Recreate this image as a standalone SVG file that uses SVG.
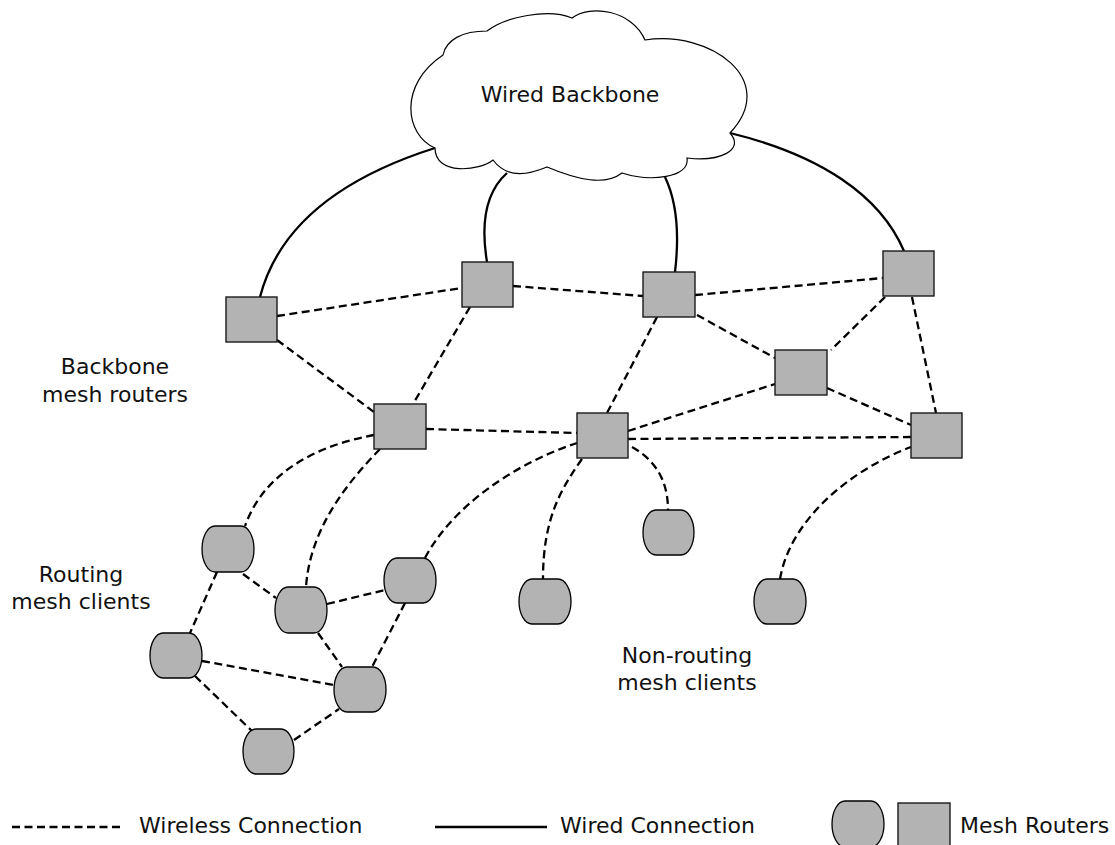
<svg xmlns="http://www.w3.org/2000/svg" width="1115" height="845" viewBox="0 0 1115 845">
<style>
.wl{fill:none;stroke:#000;stroke-width:2.3;stroke-dasharray:8,4.5}
.wd{fill:none;stroke:#000;stroke-width:2.3}
.rt{fill:#b3b3b3;stroke:#1a1a1a;stroke-width:1.4}
.cl{fill:#b3b3b3;stroke:#000;stroke-width:1.3}
.cloud{fill:#fff;stroke:#000;stroke-width:1.2}
text{font-family:"DejaVu Sans","Liberation Sans",sans-serif;font-size:22px;fill:#111}
</style>
<rect width="1115" height="845" fill="#fff"/>
<g id="connectors">
<path class="wd" d="M260,297 C280,220 350,175 435,148"/>
<path class="wd" d="M487,262 C480,220 488,190 507,173"/>
<path class="wd" d="M675,272 C680,230 676,200 665,177"/>
<path class="wd" d="M904,251 C880,195 820,155 730,133"/>
<line class="wl" x1="277" y1="316" x2="462" y2="288"/>
<line class="wl" x1="513" y1="286" x2="643" y2="296"/>
<line class="wl" x1="695" y1="295" x2="883" y2="278"/>
<line class="wl" x1="277" y1="340" x2="374" y2="412"/>
<line class="wl" x1="470" y1="307" x2="413" y2="404"/>
<line class="wl" x1="426" y1="429" x2="577" y2="433"/>
<line class="wl" x1="657" y1="317" x2="607" y2="413"/>
<line class="wl" x1="697" y1="315" x2="775" y2="358"/>
<line class="wl" x1="885" y1="297" x2="831" y2="350"/>
<line class="wl" x1="912" y1="297" x2="936" y2="413"/>
<line class="wl" x1="827" y1="388" x2="911" y2="425"/>
<line class="wl" x1="628" y1="431" x2="775" y2="384"/>
<line class="wl" x1="628" y1="439" x2="911" y2="437"/>
<path class="wl" d="M374,435 C320,445 265,470 245,526"/>
<path class="wl" d="M380,449 C345,485 310,530 306,587"/>
<path class="wl" d="M425,558 C450,510 510,465 577,443"/>
<path class="wl" d="M582,459 C560,490 543,520 543,579"/>
<path class="wl" d="M632,447 C655,460 668,480 668,510"/>
<path class="wl" d="M780,579 C790,520 850,470 911,447"/>
<line class="wl" x1="217" y1="572" x2="190" y2="633"/>
<line class="wl" x1="243" y1="574" x2="276" y2="598"/>
<line class="wl" x1="327" y1="604" x2="385" y2="590"/>
<line class="wl" x1="318" y1="633" x2="342" y2="667"/>
<line class="wl" x1="405" y1="603" x2="372" y2="667"/>
<line class="wl" x1="202" y1="661" x2="334" y2="685"/>
<line class="wl" x1="195" y1="676" x2="252" y2="731"/>
<line class="wl" x1="294" y1="740" x2="339" y2="709"/>
</g>
<g id="cloud">
<path class="cloud" d="M435,148 C405,135 398,85 443,55 C446,40 462,31 487,31 C505,17 548,8 572,18 C590,4 632,10 645,40 C710,30 780,80 730,133 C745,150 720,162 687,158 C690,178 650,182 622,173 C605,186 578,180 547,167 C530,174 508,180 493,160 C480,171 435,176 435,148 Z"/>
<text x="570" y="102" text-anchor="middle">Wired Backbone</text>
</g>
<g id="r1"><rect class="rt" x="226" y="297" width="51" height="45"/></g>
<g id="r2"><rect class="rt" x="462" y="262" width="51" height="45"/></g>
<g id="r3"><rect class="rt" x="374" y="404" width="52" height="45"/></g>
<g id="r4"><rect class="rt" x="643" y="272" width="52" height="45"/></g>
<g id="r5"><rect class="rt" x="883" y="251" width="51" height="45"/></g>
<g id="r6"><rect class="rt" x="775" y="350" width="52" height="45"/></g>
<g id="r7"><rect class="rt" x="577" y="413" width="51" height="45"/></g>
<g id="r8"><rect class="rt" x="911" y="413" width="51" height="45"/></g>
<g id="c1"><rect class="cl" x="202" y="526" width="52" height="46" rx="13" ry="23"/></g>
<g id="c2"><rect class="cl" x="275" y="587" width="52" height="46" rx="13" ry="23"/></g>
<g id="c3"><rect class="cl" x="384" y="558" width="52" height="45" rx="13" ry="23"/></g>
<g id="c4"><rect class="cl" x="150" y="633" width="52" height="45" rx="13" ry="23"/></g>
<g id="c5"><rect class="cl" x="334" y="667" width="52" height="45" rx="13" ry="23"/></g>
<g id="c6"><rect class="cl" x="243" y="729" width="51" height="45" rx="13" ry="23"/></g>
<g id="c7"><rect class="cl" x="519" y="579" width="52" height="45" rx="13" ry="23"/></g>
<g id="c8"><rect class="cl" x="643" y="510" width="51" height="45" rx="13" ry="23"/></g>
<g id="c9"><rect class="cl" x="754" y="579" width="52" height="45" rx="13" ry="23"/></g>
<g id="labels">
<text x="115" y="374" text-anchor="middle">Backbone</text>
<text x="115" y="402" text-anchor="middle">mesh routers</text>
<text x="81" y="582" text-anchor="middle">Routing</text>
<text x="81" y="609" text-anchor="middle">mesh clients</text>
<text x="687" y="663" text-anchor="middle">Non-routing</text>
<text x="687" y="690" text-anchor="middle">mesh clients</text>
</g>
<g id="legend">
<line class="wl" x1="12" y1="827" x2="120" y2="827"/>
<text x="139" y="833">Wireless Connection</text>
<line class="wd" x1="435" y1="827" x2="547" y2="827"/>
<text x="560" y="833">Wired Connection</text>
<rect class="cl" x="832" y="801" width="52" height="46" rx="13" ry="23"/>
<rect class="rt" x="898" y="803" width="52" height="45"/>
<text x="960" y="833">Mesh Routers</text>
</g>
</svg>
